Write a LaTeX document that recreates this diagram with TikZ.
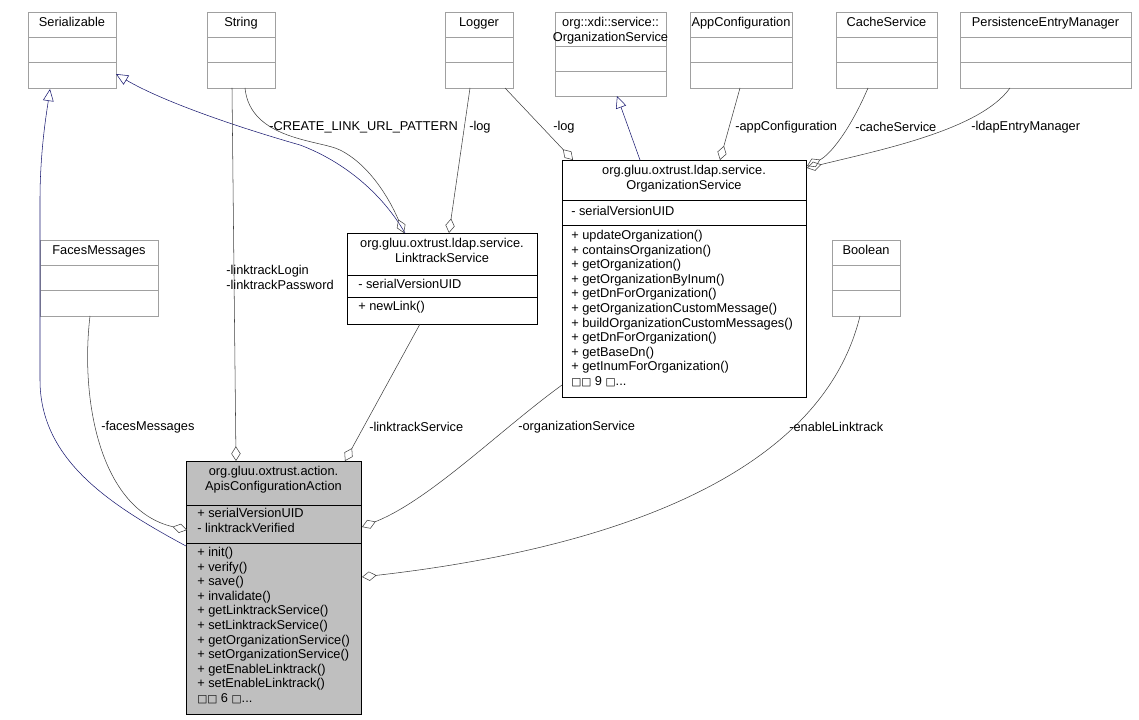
\documentclass[tikz,border=0pt]{standalone}
\usepackage{fontspec}
\setmainfont{Liberation Sans}
\newfontfamily\symfont{DejaVu Sans}
\usetikzlibrary{arrows.meta}
\definecolor{edgegrey}{RGB}{64,64,64}
\definecolor{boxgrey}{RGB}{160,160,160}
\definecolor{inhblue}{RGB}{25,25,112}
\definecolor{curfill}{RGB}{191,191,191}
\tikzset{
  cls/.style={draw=boxgrey,fill=white,anchor=north west,inner sep=0pt},
  clsmain/.style={draw=black,fill=white,anchor=north west,inner sep=0pt},
  txt/.style={anchor=north west,inner sep=0.75pt,font=\fontsize{9.6}{10.95}\selectfont,align=left},
  ttl/.style={anchor=north,inner sep=0.75pt,font=\fontsize{9.6}{10.95}\selectfont,align=center},
  lbl/.style={inner sep=0.75pt,font=\fontsize{9.6}{10.95}\selectfont,align=left},
  use/.style={draw=edgegrey,-{Diamond[open,length=11pt,width=7pt]}},
  inh/.style={draw=inhblue,-{Triangle[open,length=9pt,width=8pt]}},
}
% #1 name, #2 style, #3 x, #4 y, #5 width, #6 height, #7 first rule, #8 second rule
\newcommand\umlbox[8]{%
  \node[#2,minimum width=#5*0.75pt,minimum height=#6*0.75pt] (#1) at (#3,#4) {};
  \draw[#2,fill=none] (#3,#7) -- ++(#5,0);
  \draw[#2,fill=none] (#3,#8) -- ++(#5,0);
}
\newcommand\more[1]{{\symfont\footnotesize □□} #1 {\symfont\footnotesize □}...}
\begin{document}
\begin{tikzpicture}[x=0.75pt,y=0.75pt,yscale=-1,xscale=1]
\useasboundingbox (0,0) rectangle (1139,720);

%Classes on top
\umlbox{ser}{cls}{28}{12}{88}{76}{37}{62}
\node[ttl] at (72,16) {Serializable};
\umlbox{str}{cls}{207}{12}{68}{76}{37}{62}
\node[ttl] at (241,16) {String};
\umlbox{logr}{cls}{445}{12}{68}{76}{37}{62}
\node[ttl] at (479,16) {Logger};
\umlbox{xdi}{cls}{555}{12}{111}{84}{46}{71}
\node[ttl] at (610.5,16) {org::xdi::service::\\OrganizationService};
\umlbox{appc}{cls}{690}{12}{102}{76}{37}{62}
\node[ttl] at (741,16) {AppConfiguration};
\umlbox{cache}{cls}{836}{12}{101}{76}{37}{62}
\node[ttl] at (886.5,16) {CacheService};
\umlbox{pem}{cls}{960}{12}{171}{76}{37}{62}
\node[ttl] at (1045.5,16) {PersistenceEntryManager};

%Middle classes
\umlbox{faces}{cls}{40}{240}{118}{76}{265}{290}
\node[ttl] at (99,244) {FacesMessages};
\umlbox{bool}{cls}{832}{240}{68}{76}{265}{290}
\node[ttl] at (866,244) {Boolean};

\umlbox{lts}{clsmain}{347}{233}{190}{91}{275}{297}
\node[ttl] at (442,237) {org.gluu.oxtrust.ldap.service.\\LinktrackService};
\node[txt] at (357,278) {- serialVersionUID};
\node[txt] at (357,300) {+ newLink()};

\umlbox{ors}{clsmain}{562}{160}{244}{237}{200}{225}
\node[ttl] at (684,164) {org.gluu.oxtrust.ldap.service.\\OrganizationService};
\node[txt] at (570,205) {- serialVersionUID};
\node[txt] at (570,229) {+ updateOrganization()\\+ containsOrganization()\\+ getOrganization()\\+ getOrganizationByInum()\\+ getDnForOrganization()\\+ getOrganizationCustomMessage()\\+ buildOrganizationCustomMessages()\\+ getDnForOrganization()\\+ getBaseDn()\\+ getInumForOrganization()\\\more{9}};

%Current class
\umlbox{apis}{clsmain,fill=curfill}{186}{461}{175}{253}{505}{543}
\node[ttl] at (273.5,465) {org.gluu.oxtrust.action.\\ApisConfigurationAction};
\node[txt] at (196,507) {+ serialVersionUID\\- linktrackVerified};
\node[txt] at (196,546) {+ init()\\+ verify()\\+ save()\\+ invalidate()\\+ getLinktrackService()\\+ setLinktrackService()\\+ getOrganizationService()\\+ setOrganizationService()\\+ getEnableLinktrack()\\+ setEnableLinktrack()\\\more{6}};

%Inheritance
\draw[inh] (apis.west |- 0,546) .. controls (110,505) and (40,460) .. (40,380) -- (40,200) .. controls (40,150) and (47,110) .. (50,89);
\draw[inh] (405,233) .. controls (380,190) and (340,160) .. (300,145) .. controls (230,125) and (160,100) .. (116,74);
\draw[inh] (640,160) -- (617,96);

%Usage
\draw[use] (245,88) .. controls (250,140) and (320,140) .. (340,150) .. controls (370,165) and (390,200) .. (404,233);
\node[lbl,anchor=west] at (268,127) {-CREATE\_LINK\_URL\_PATTERN};
\draw[use] (470,88) -- (449,233);
\node[lbl,anchor=west] at (468,127) {-log};
\draw[use] (505,88) -- (573,160);
\node[lbl,anchor=west] at (552,127) {-log};
\draw[use] (740,88) -- (720,160);
\node[lbl,anchor=west] at (734,127) {-appConfiguration};
\draw[use] (868,88) .. controls (850,130) and (830,155) .. (807,166);
\node[lbl,anchor=west] at (854,127) {-cacheService};
\draw[use] (1010,88) .. controls (980,130) and (880,150) .. (807,168);
\node[lbl,anchor=west] at (970,127) {-ldapEntryManager};

\draw[use] (232,88) -- (236,461);
\node[lbl,anchor=north east] at (335,264) {-linktrackLogin\\-linktrackPassword};
\draw[use] (90,316) .. controls (80,400) and (100,510) .. (187,530);
\node[lbl,anchor=west] at (100,427) {-facesMessages};
\draw[use] (420,324) -- (345,461);
\node[lbl,anchor=west] at (368,427) {-linktrackService};
\draw[use] (562,385) .. controls (500,430) and (430,500) .. (362,527);
\node[lbl,anchor=west] at (517,427) {-organizationService};
\draw[use] (860,316) .. controls (820,480) and (600,550) .. (362,577);
\node[lbl,anchor=west] at (788,427) {-enableLinktrack};
\end{tikzpicture}
\end{document}
